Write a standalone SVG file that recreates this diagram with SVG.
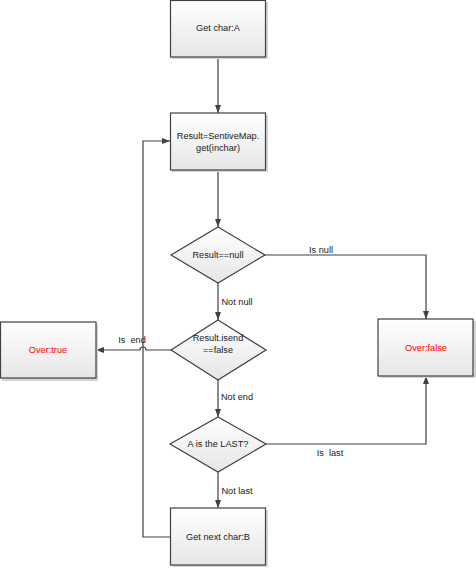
<svg xmlns="http://www.w3.org/2000/svg" width="476" height="568" viewBox="0 0 476 568">
<defs>
<linearGradient id="g" x1="0" y1="0" x2="0" y2="1">
<stop offset="0" stop-color="#ffffff"/>
<stop offset="1" stop-color="#e6e6e6"/>
</linearGradient>
<marker id="ar" viewBox="0 0 8 6" refX="8" refY="3" markerWidth="8" markerHeight="6" markerUnits="userSpaceOnUse" orient="auto">
<path d="M0,0 L8,3 L0,6 Z" fill="#404040"/>
</marker>
</defs>
<style>
.box{fill:url(#g);stroke:#404040;stroke-width:1.2}
.sh{fill:#d4d4d4}
.t{font-family:"Liberation Sans",Arial,sans-serif;font-size:9.2px;fill:#1a1a1a;text-anchor:middle}
.r{fill:#ff0000}
.lb{font-family:"Liberation Sans",Arial,sans-serif;font-size:9.2px;fill:#1a1a1a;text-anchor:middle;white-space:pre}
.c{fill:none;stroke:#404040;stroke-width:1.2}
</style>
<g id="connectors">
<path class="c" d="M218,57 V113" marker-end="url(#ar)"/>
<path class="c" d="M218,170 V227" marker-end="url(#ar)"/>
<path class="c" d="M265,255 H426 V319" marker-end="url(#ar)"/>
<path class="c" d="M218,283 V320" marker-end="url(#ar)"/>
<path class="c" d="M171,350 H146 A3,3 0 0 0 140,350 H96" marker-end="url(#ar)"/>
<path class="c" d="M218,380 V417" marker-end="url(#ar)"/>
<path class="c" d="M266,444 H426 V376" marker-end="url(#ar)"/>
<path class="c" d="M218,472 V508" marker-end="url(#ar)"/>
<path class="c" d="M170,537 H143 V141 H170" marker-end="url(#ar)"/>
<text class="lb" x="321" y="253">Is null</text>
<text class="lb" x="237" y="305">Not null</text>
<text class="lb" x="132" y="343">Is  end</text>
<text class="lb" x="237" y="400">Not end</text>
<text class="lb" x="330" y="456">Is  last</text>
<text class="lb" x="237" y="494">Not last</text>
</g>
<g id="n1">
<rect class="sh" x="172" y="2" width="96" height="57"/>
<rect class="box" x="170.5" y="0.5" width="95" height="56.5"/>
<text class="t" x="218" y="31">Get char:A</text>
</g>
<g id="n2">
<rect class="sh" x="172" y="115" width="96" height="57"/>
<rect class="box" x="170.5" y="113" width="95" height="57"/>
<text class="t" x="218" y="139">Result=SentiveMap.</text>
<text class="t" x="218" y="151">get(inchar)</text>
</g>
<g id="d1">
<polygon class="box" points="218,227 265,255 218,283 171,255"/>
<text class="t" x="218" y="258">Result==null</text>
</g>
<g id="d2">
<polygon class="box" points="218,320 266,350 218,380 171,350"/>
<text class="t" x="218" y="341">Result.isend</text>
<text class="t" x="218" y="353">==false</text>
</g>
<g id="d3">
<polygon class="box" points="218,417 266,444 218,472 170,444"/>
<text class="t" x="218" y="447">A is the LAST?</text>
</g>
<g id="n3">
<rect class="sh" x="172" y="510" width="96" height="57"/>
<rect class="box" x="170.5" y="508" width="95" height="57"/>
<text class="t" x="218" y="540">Get next char:B</text>
</g>
<g id="over_true">
<rect class="sh" x="2" y="324" width="96" height="57"/>
<rect class="box" x="0.5" y="322" width="95.5" height="56"/>
<text class="t r" x="48" y="353">Over:true</text>
</g>
<g id="over_false">
<rect class="sh" x="380" y="321" width="96" height="57"/>
<rect class="box" x="378" y="319" width="95" height="57"/>
<text class="t r" x="426" y="351">Over:false</text>
</g>
</svg>
